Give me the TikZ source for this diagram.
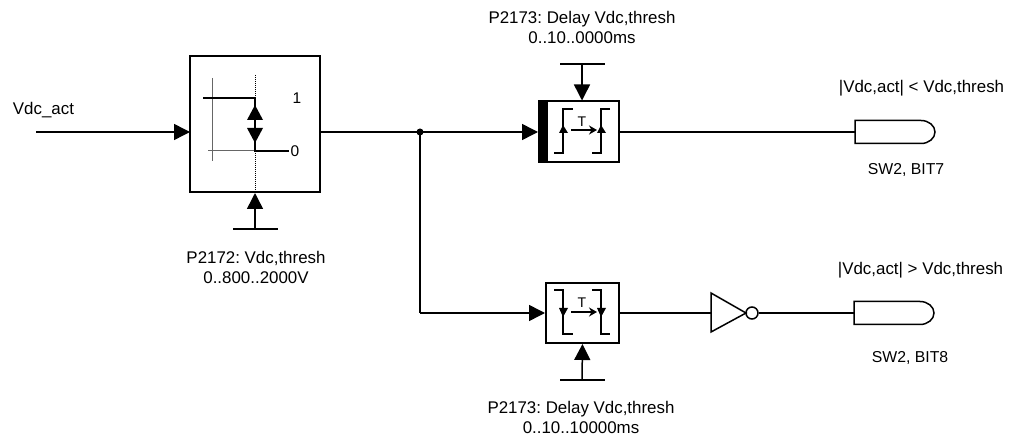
\documentclass[tikz,border=0pt]{standalone}
\usepackage{fontspec}
\setmainfont{Liberation Sans}
\usetikzlibrary{arrows.meta}

\tikzset{
    sig/.style={line width=1.5pt},
    sigarrow/.style={line width=1.5pt, -{Triangle[length=16pt, width=16pt]}},
    block/.style={draw, line width=2pt, inner sep=0pt, anchor=center},
    lbl/.style={font=\fontsize{16.9}{20}\selectfont\frenchspacing, align=center},
    swlbl/.style={font=\fontsize{15.8}{18}\selectfont\frenchspacing},
    tinyarrow/.style={line width=1.2pt, -{Stealth[length=8pt, width=9pt]}},
}

\begin{document}
\begin{tikzpicture}[x=1pt, y=-1pt]
        \useasboundingbox (0,0) rectangle (1012,438);

        % Threshold block
        \node[block, minimum width=130pt, minimum height=136pt] (thresh) at (255,124) {};
        \draw[line width=1pt, black!60] (212,78) -- (212,161);
        \draw[line width=1pt, black!60] (208,151) -- (255,151);
        \draw[line width=1pt, densely dotted] (255,75) -- (255,192);
        \draw[sig] (203,98) -- (255,98) -- (255,151) -- (289,151);
        \fill (255,105) -- (263,120) -- (247,120) -- cycle;
        \fill (255,143) -- (263,128) -- (247,128) -- cycle;
        \node[font=\fontsize{15.5}{15.5}\selectfont] (one) at (297,98) {1};
        \node[font=\fontsize{15.5}{15.5}\selectfont] (zero) at (295,151) {0};

        % Input
        \node[lbl] (vdcact) at (43.5,110) {Vdc\_act};
        \coordinate (input) at (36,132);
        \coordinate (threshin) at (190,132);
        \coordinate (threshout) at (320,132);
        \draw[sigarrow] (input) -- (threshin);

        % Threshold parameter
        \coordinate (threshpar) at (255,229);
        \draw[sig] (233,229) -- (278,229);
        \draw[sigarrow] (threshpar) -- (thresh.south);
        \node[lbl] (threshtxt) at (256,267.5) {P2172: Vdc,thresh\\0..800..2000V};

        % Upper delay block
        \node[block, minimum width=80pt, minimum height=61pt] (delayA) at (579,132) {};
        \fill (539,101) rectangle (548,163);
        \coordinate (delayAin) at (538,132);
        \coordinate (branch) at (420,132);
        \draw[sig] (threshout) -- (branch);
        \draw[sigarrow] (branch) -- (delayAin);
        \fill (branch) circle (3.5pt);
        \draw[sig] (554,153) -- (563,153) -- (563,109) -- (573,109);
        \draw[sig] (592,153) -- (601,153) -- (601,109) -- (610,109);
        \fill (563,125) -- (568,133) -- (559,133) -- cycle;
        \fill (601,125) -- (606,133) -- (597,133) -- cycle;
        \draw[tinyarrow] (571,130) -- (597,130);
        \node[font=\fontsize{14}{14}\selectfont] (tA) at (582,122) {T};

        % Upper delay parameter
        \coordinate (delayApar) at (582,64);
        \draw[sig] (560,64) -- (605,64);
        \draw[sigarrow] (delayApar) -- (delayA.north -| delayApar);
        \node[lbl] (delayAtxt) at (582,27) {P2173: Delay Vdc,thresh\\0..10..0000ms};

        % Upper output
        \coordinate (gateA) at (855,132);
        \draw[sig] (delayA.east) -- (gateA);
        \draw[sig, fill=white] (855,120.5) -- (921,120.5) arc (-90:90:14 and 11.5) -- (855,143.5) -- cycle;
        \node[lbl] (gateAtop) at (921.5,88) {|Vdc,act| < Vdc,thresh};
        \node[swlbl] (gateAbot) at (906,170) {SW2, BIT7};

        % Lower delay block
        \node[block, minimum width=73pt, minimum height=60pt] (delayB) at (582.5,313) {};
        \coordinate (corner) at (420,313);
        \draw[sig] (branch) -- (corner);
        \draw[sigarrow] (corner) -- (delayB.west);
        \draw[sig] (554,290) -- (563,290) -- (563,334) -- (573,334);
        \draw[sig] (592,290) -- (601,290) -- (601,334) -- (610,334);
        \fill (563,317) -- (568,308) -- (559,308) -- cycle;
        \fill (601,317) -- (606,308) -- (597,308) -- cycle;
        \draw[tinyarrow] (571,312) -- (597,312);
        \node[font=\fontsize{14}{14}\selectfont] (tB) at (582,303) {T};

        % Lower delay parameter
        \coordinate (delayBpar) at (582,380);
        \draw[sig] (560,380) -- (605,380);
        \draw[sigarrow] (delayBpar) -- (delayB.south);
        \node[lbl] (delayBtxt) at (581,417.5) {P2173: Delay Vdc,thresh\\0..10..10000ms};

        % Inverter
        \coordinate (invin) at (711,313);
        \draw[sig] (delayB.east) -- (invin);
        \draw[sig] (711,293) -- (746,313) -- (711,332) -- cycle;
        \node[draw, circle, line width=1.5pt, minimum size=12pt, inner sep=0pt] (invdot) at (752,313) {};

        % Lower output
        \coordinate (gateB) at (854,313);
        \draw[sig] (invdot.east) -- (gateB);
        \draw[sig, fill=white] (854,301.5) -- (920,301.5) arc (-90:90:14 and 11.5) -- (854,324.5) -- cycle;
        \node[lbl] (gateBtop) at (920.5,270) {|Vdc,act| > Vdc,thresh};
        \node[swlbl] (gateBbot) at (910,358) {SW2, BIT8};
    \end{tikzpicture}
\end{document}
